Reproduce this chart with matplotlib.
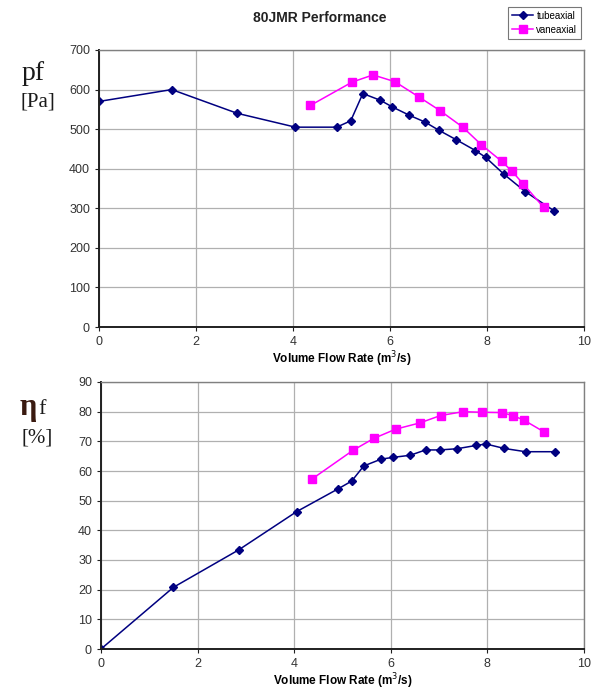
import matplotlib
matplotlib.use("Agg")
from matplotlib import pyplot as plt

plt.rcParams['font.family'] = ['Liberation Sans', 'DejaVu Sans']

# tubeaxial fan: flow rate (m3/s), pressure (Pa), efficiency (%)
tube_q = [0, 1.5, 2.85, 4.05, 4.9, 5.19, 5.44, 5.8, 6.05, 6.4, 6.72, 7.01, 7.37, 7.76, 7.97, 8.35, 8.79, 9.39]
tube_p = [570, 600, 540, 505, 505, 521, 590, 573, 556, 535, 518, 497, 473, 446, 429, 386, 342, 293]
tube_eff = [0, 20.8, 33.4, 46.3, 53.9, 56.6, 61.7, 64.0, 64.6, 65.3, 67.1, 67.1, 67.5, 68.6, 69.1, 67.6, 66.5, 66.5]

# vaneaxial fan
vane_q = [4.36, 5.22, 5.65, 6.1, 6.6, 7.03, 7.5, 7.88, 8.3, 8.52, 8.75, 9.17]
vane_p = [560, 619, 637, 620, 581, 547, 505, 461, 419, 393, 361, 302]
vane_eff = [57.2, 67.0, 71.0, 74.1, 76.2, 78.7, 80.0, 79.8, 79.7, 78.7, 77.2, 73.2]

x_ticks = [0, 2, 4, 6, 8, 10]

W, H = 593, 697
fig = plt.figure(figsize=(W / 100, H / 100), dpi=100)


def px_axes(left, top, right, bottom):
  return fig.add_axes([left / W, 1 - bottom / H, (right - left) / W, (bottom - top) / H])


def style(ax, yticks):
  ax.set_xlim(0, 10)
  ax.set_xticks(x_ticks)
  ax.set_ylim(yticks[0], yticks[-1])
  ax.set_yticks(yticks)
  ax.grid(True, color='#b0b0b0', lw=0.9)
  ax.set_axisbelow(True)
  for s in ['top', 'right']:
    ax.spines[s].set_color('#808080')
    ax.spines[s].set_linewidth(1.0)
  for s in ['left', 'bottom']:
    ax.spines[s].set_color('#202020')
    ax.spines[s].set_linewidth(1.4)
  ax.tick_params(labelsize=9, labelcolor='#333333', length=3, color='#202020')
  ax.set_xlabel('Volume Flow Rate (m$^3$/s)', fontsize=8.5, fontweight='bold', labelpad=1)


ax1 = px_axes(99, 50, 584, 327)
l1, = ax1.plot(tube_q, tube_p, color='#000080', marker='D', ms=4, lw=1.1, label='tubeaxial')
l2, = ax1.plot(vane_q, vane_p, color='#ff00ff', marker='s', ms=6, lw=1.1, label='vaneaxial')
style(ax1, list(range(0, 701, 100)))

ax2 = px_axes(101, 382, 584, 649)
ax2.plot(tube_q, tube_eff, color='#000080', marker='D', ms=4, lw=1.1)
ax2.plot(vane_q, vane_eff, color='#ff00ff', marker='s', ms=6, lw=1.1)
style(ax2, list(range(0, 91, 10)))

fig.text(320 / W, 1 - 18 / H, '80JMR Performance', fontsize=10, fontweight='bold',
         ha='center', va='center', color='#222222')

leg = fig.legend(handles=[l1, l2], loc='upper right', bbox_to_anchor=(586 / W, 1 - 2 / H),
                 fontsize=7, frameon=True, fancybox=False, edgecolor='#555555',
                 handlelength=2.2, borderpad=0.4, labelspacing=0.4, handletextpad=0.3)
leg.get_frame().set_linewidth(0.8)

serif = ['Liberation Serif', 'DejaVu Serif']
fig.text(33 / W, 1 - 73 / H, 'pf', fontsize=20, family=serif, ha='center', va='center', color='#1a1a1a')
fig.text(38 / W, 1 - 102 / H, '[Pa]', fontsize=15, family=serif, ha='center', va='center', color='#1a1a1a')
fig.text(28 / W, 1 - 408 / H, 'η', fontsize=22, family=serif, fontweight='bold', ha='center', va='center', color='#3a1a10')
fig.text(42 / W, 1 - 410 / H, 'f', fontsize=16, family=serif, ha='center', va='center', color='#1a1a1a')
fig.text(37 / W, 1 - 438 / H, '[%]', fontsize=15, family=serif, ha='center', va='center', color='#1a1a1a')

fig.savefig('out.png', dpi=100)
